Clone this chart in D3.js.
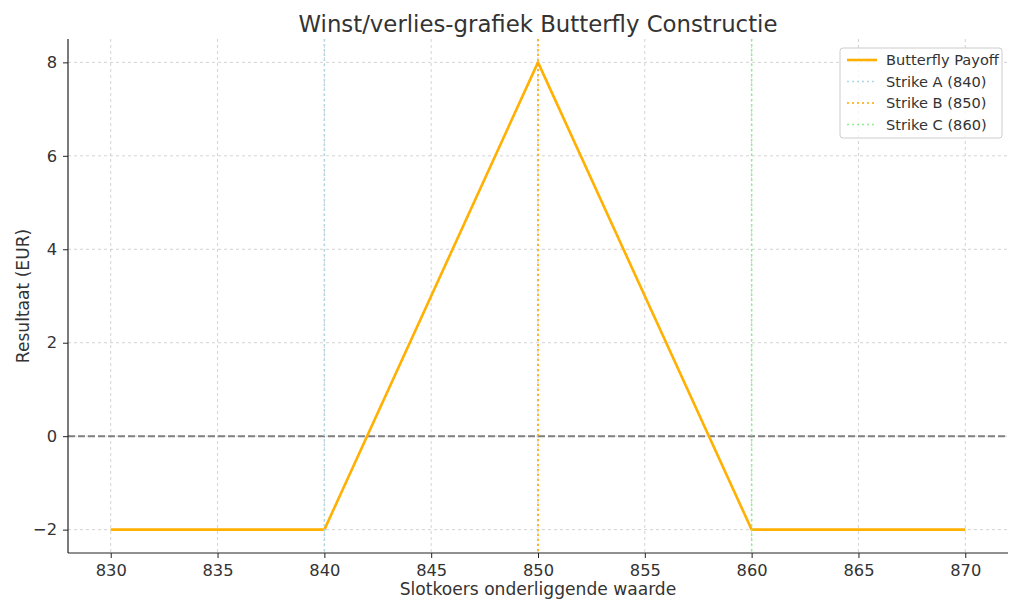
<!DOCTYPE html>
<html><head><meta charset="utf-8">
<script src="https://cdn.jsdelivr.net/npm/d3@7"></script>
<style>body{margin:0;background:#fff;}svg{display:block;font-family:"DejaVu Sans",sans-serif;}</style>
</head><body><svg id="c" width="1024" height="614"></svg>
<script>
const prices = [830, 840, 850, 860, 870];
const payoff = [-2, -2, 8, -2, -2];
const strikes = [840, 850, 860];
const strikeLabels = ["Strike A (840)", "Strike B (850)", "Strike C (860)"];
const strikeColors = ["#add8e6", "#ffa500", "#90ee90"];
const xTicks = [830, 835, 840, 845, 850, 855, 860, 865, 870];
const yTicks = [-2, 0, 2, 4, 6, 8];
const title = "Winst/verlies-grafiek Butterfly Constructie";
const xLabel = "Slotkoers onderliggende waarde";
const yLabel = "Resultaat (EUR)";

const svg = d3.select("#c");
const L = 68, R = 1008, T = 39, B = 553;
const x = d3.scaleLinear().domain([828, 872]).range([L, R]);
const y = d3.scaleLinear().domain([-2.5, 8.5]).range([B, T]);
const txt = "#333";

// grid
const g = svg.append("g");
g.selectAll(".gx").data(xTicks).enter().append("line")
  .attr("x1", d => x(d)).attr("x2", d => x(d)).attr("y1", T).attr("y2", B)
  .attr("stroke", "#b0b0b0").attr("stroke-opacity", 0.7).attr("stroke-width", 0.8).attr("stroke-dasharray", "3,3");
g.selectAll(".gy").data(yTicks).enter().append("line")
  .attr("y1", d => y(d)).attr("y2", d => y(d)).attr("x1", L).attr("x2", R)
  .attr("stroke", "#b0b0b0").attr("stroke-opacity", 0.7).attr("stroke-width", 0.8).attr("stroke-dasharray", "3,3");

// zero line
svg.append("line").attr("x1", L).attr("x2", R).attr("y1", y(0)).attr("y2", y(0))
  .attr("stroke", "#808080").attr("stroke-width", 2).attr("stroke-dasharray", "7,3");

// payoff
svg.append("path").datum(prices.map((p, i) => [p, payoff[i]]))
  .attr("d", d3.line().x(d => x(d[0])).y(d => y(d[1])))
  .attr("fill", "none").attr("stroke", "#ffb000").attr("stroke-width", 2.6).attr("stroke-linejoin", "round");

// strikes
svg.selectAll(".strike").data(strikes).enter().append("line")
  .attr("x1", d => x(d)).attr("x2", d => x(d)).attr("y1", T).attr("y2", B)
  .attr("stroke", (d, i) => strikeColors[i]).attr("stroke-width", 1.6).attr("stroke-dasharray", "2,3");

// axes
const xAxis = d3.axisBottom(x).tickValues(xTicks).tickSize(5).tickPadding(6);
const yAxis = d3.axisLeft(y).tickValues(yTicks).tickSize(5).tickPadding(6).tickFormat(d => d < 0 ? "\u2212" + Math.abs(d) : d);
const gx = svg.append("g").attr("transform", `translate(0,${B})`).call(xAxis);
const gy = svg.append("g").attr("transform", `translate(${L},0)`).call(yAxis);
[gx, gy].forEach(a => {
  a.select(".domain").attr("stroke", "#222").attr("stroke-width", 1.2);
  a.selectAll(".tick line").attr("stroke", "#222").attr("stroke-width", 1);
  a.selectAll("text").attr("fill", txt).style("font-size", "16.3px").style("font-family", "DejaVu Sans");
});
gx.select(".domain").attr("d", `M${L},0H${R}`);
gy.select(".domain").attr("d", `M0,${B}V${T}`);

// labels
svg.append("text").attr("x", (L + R) / 2).attr("y", 32).attr("text-anchor", "middle")
  .attr("fill", txt).style("font-size", "22.8px").text(title);
svg.append("text").attr("x", (L + R) / 2).attr("y", 595).attr("text-anchor", "middle")
  .attr("fill", txt).style("font-size", "17.1px").text(xLabel);
svg.append("text").attr("transform", `translate(29,${(T + B) / 2}) rotate(-90)`).attr("text-anchor", "middle")
  .attr("fill", txt).style("font-size", "17.1px").text(yLabel);

// legend
const lg = svg.append("g").attr("transform", "translate(840,48)");
lg.append("rect").attr("width", 162).attr("height", 90).attr("rx", 3)
  .attr("fill", "#fff").attr("fill-opacity", 0.8).attr("stroke", "#ccc");
const items = [{label: "Butterfly Payoff", color: "#ffb000", dash: null, w: 2.6}]
  .concat(strikes.map((s, i) => ({label: strikeLabels[i], color: strikeColors[i], dash: "2,3", w: 1.6})));
items.forEach((it, i) => {
  const yy = 12 + i * 21.5;
  lg.append("line").attr("x1", 7).attr("x2", 37).attr("y1", yy).attr("y2", yy)
    .attr("stroke", it.color).attr("stroke-width", it.w).attr("stroke-dasharray", it.dash);
  lg.append("text").attr("x", 46).attr("y", yy + 5).attr("fill", txt).style("font-size", "14.6px").text(it.label);
});
</script></body></html>
